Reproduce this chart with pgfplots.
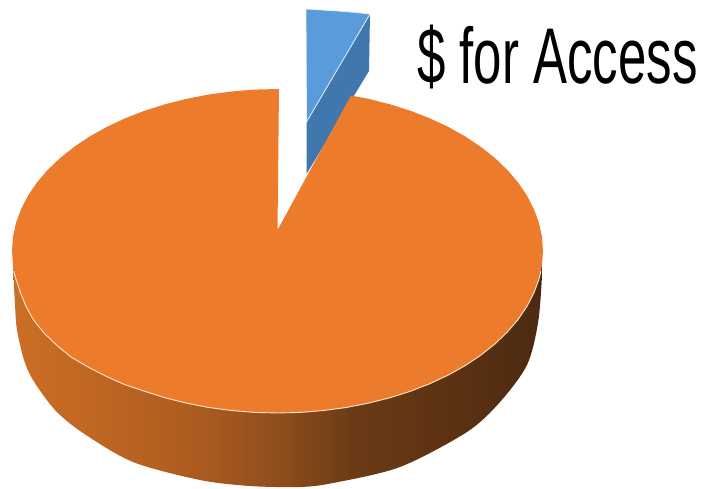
\documentclass[border=0pt]{standalone}
\usepackage{pgfplots}
\usepackage{fontspec}
\setmainfont{Liberation Sans}
\pgfplotsset{compat=1.18}
\definecolor{sliceorange}{HTML}{EC7B2C}
\definecolor{sliceblue}{HTML}{5A9BDB}
\definecolor{sliceblueside}{HTML}{4078AE}
\definecolor{rimedge}{HTML}{FBE7CF}
\definecolor{rimA}{HTML}{CC6E25}
\definecolor{rimB}{HTML}{BE6622}
\definecolor{rimC}{HTML}{AB5B20}
\definecolor{rimD}{HTML}{8F4D1C}
\definecolor{rimE}{HTML}{6C3B16}
\definecolor{rimF}{HTML}{5C3212}
\definecolor{rimG}{HTML}{4C2A10}
% Side wall of the large slice: lit on the left, dark on the right
\pgfdeclarehorizontalshading{rimshade}{100bp}{
  color(0bp)=(rimA); color(25bp)=(rimA); color(33.2bp)=(rimB);
  color(42.7bp)=(rimC); color(50.2bp)=(rimD); color(56.9bp)=(rimE);
  color(66.3bp)=(rimF); color(75bp)=(rimG); color(100bp)=(rimG)}
\begin{document}
\begin{tikzpicture}
\begin{axis}[
  scale only axis, width=705pt, height=488pt,
  xmin=0, xmax=705, ymin=0, ymax=488, y dir=reverse,
  hide axis, clip=false]
% keep the whole plotting area on the page
\path (axis cs:0,0) rectangle (axis cs:705,488);
% side wall of the small slice
\addplot[draw=none, fill=sliceblueside] coordinates {
  (306.5,122) (370,14) (369,71) (306.5,174)} --cycle;
% top face of the small slice
\addplot[draw=white!85!sliceblue, line width=0.8pt, fill=sliceblue] coordinates {
  (306,9) (322,10) (338,11) (354,12.3) (370,14) (306.5,122)} --cycle;
% side wall of the large slice
\addplot[smooth, draw=none, shading=rimshade] coordinates {
  (14,255) (13.5,273) (15,305) (17,330) (24,360) (33,380) (55,410) (83,433)
  (133,462) (200,480) (250,486) (300,487) (333,483) (400,467) (467,432)
  (500,402) (527,365) (538,323) (542,275) (541,255)} --cycle;
% top face of the large slice
\addplot[draw=none, fill=sliceorange] coordinates {
  (277.5,230) (279,89) (254.3,89.6) (231.4,91.5) (208.8,94.5) (186.7,98.8)
  (165.3,104.2) (144.7,110.7) (125.2,118.3) (106.8,126.9) (89.8,136.4)
  (74.1,146.9) (60,158.1) (47.6,170) (36.9,182.5) (28,195.6) (21.1,209.1)
  (16,222.9) (13,236.9) (12,251) (13,265.1) (16,279.1) (20.5,292.9) (26,306.4)
  (33.5,320) (44,333) (57,345.5) (71,357) (88,367) (105.5,376) (124.5,384.5)
  (144.7,391.3) (165.3,397.8) (186.7,403.2) (208.8,407.5) (231.4,410.5)
  (254.3,412.4) (277.5,413) (300.7,412.4) (323.6,410.5) (346.2,407.5)
  (368.3,403.2) (389.7,397.8) (410.3,391.3) (429.8,383.7) (448.2,375.1)
  (465.2,365.6) (480.9,355.1) (495,343.9) (507.4,332) (518.1,319.5) (527,306.4)
  (533.9,292.9) (539,279.1) (542,265.1) (543,251) (542,236.9) (539,222.9)
  (533.9,209.1) (527,195.6) (518.1,182.5) (507.4,170) (495,158.1) (480.9,146.9)
  (465.2,136.4) (448.2,126.9) (429.8,118.3) (410.3,110.7) (389.7,104.2)
  (368.3,98.8) (351,95.5)} --cycle;
% pale edge where the large slice's top meets its wall
\addplot[draw=rimedge, line width=0.9pt] coordinates {
  (13.5,271) (16,279.1) (20.5,292.9) (26,306.4) (33.5,320) (44,333) (57,345.5)
  (71,357) (88,367) (105.5,376) (124.5,384.5) (144.7,391.3) (165.3,397.8)
  (186.7,403.2) (208.8,407.5) (231.4,410.5) (254.3,412.4) (277.5,413)
  (300.7,412.4) (323.6,410.5) (346.2,407.5) (368.3,403.2) (389.7,397.8)
  (410.3,391.3) (429.8,383.7) (448.2,375.1) (465.2,365.6) (480.9,355.1)
  (495,343.9) (507.4,332) (518.1,319.5) (527,306.4) (533.9,292.9) (539,279.1)
  (541,271)};
\node[anchor=base west, inner sep=0pt] at (axis cs:417,83)
  {\scalebox{0.645}[1]{\fontsize{79}{82}\selectfont \$ for Access}};
\end{axis}
\end{tikzpicture}
\end{document}
